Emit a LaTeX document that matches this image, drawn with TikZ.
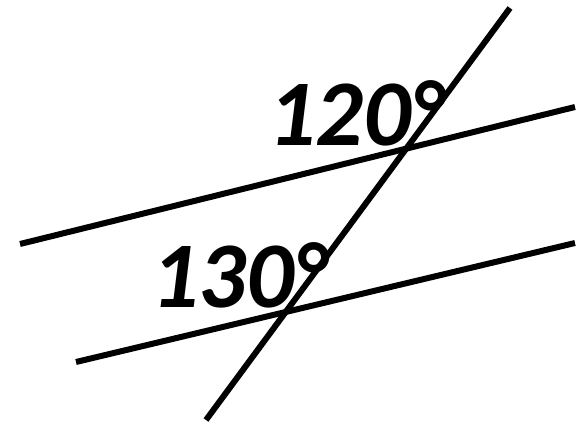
\documentclass[tikz,border=0pt]{standalone}
\usepackage{fontspec}
\setmainfont{Carlito}
\usetikzlibrary{calc}
\tikzset{
    line/.style={black, line width=6},
    angle label/.style={font=\fontsize{94}{94}\selectfont\bfseries\itshape, inner sep=0pt, anchor=base west}
}
\newcommand{\Canvas}{
\useasboundingbox (0,0) rectangle (579,-425);

\coordinate (upper-west) at (20,-244);
\coordinate (upper-east) at (575,-107);
\coordinate (lower-west) at (76,-362);
\coordinate (lower-east) at (575,-243);
\coordinate (cross-north) at (510,-8);
\coordinate (cross-south) at (206,-420);
}

\begin{document}
\begin{tikzpicture}[x=1pt, y=1pt]
\Canvas
\draw[line] (upper-west) -- (upper-east);
\draw[line] (lower-west) -- (lower-east);
\draw[line] (cross-north) -- (cross-south);

\node[angle label] (upper-angle) at (268,-146) {120°};
\node[angle label] (lower-angle) at (151,-307) {130°};
\end{tikzpicture}
\end{document}
